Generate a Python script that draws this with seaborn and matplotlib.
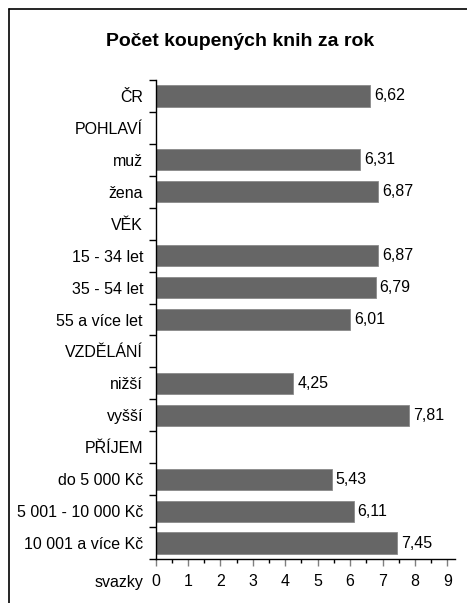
import matplotlib
matplotlib.use("Agg")
import matplotlib.pyplot as plt
from matplotlib.lines import Line2D
import seaborn as sns
import pandas as pd

# Row order, including group headers that carry no bar
categories = ["ČR", "POHLAVÍ", "muž", "žena", "VĚK", "15 - 34 let", "35 - 54 let",
              "55 a více let", "VZDĚLÁNÍ", "nižší", "vyšší", "PŘÍJEM",
              "do 5 000 Kč", "5 001 - 10 000 Kč", "10 001 a více Kč"]
bar_labels = ["ČR", "muž", "žena", "15 - 34 let", "35 - 54 let", "55 a více let",
              "nižší", "vyšší", "do 5 000 Kč", "5 001 - 10 000 Kč", "10 001 a více Kč"]
bar_values = [6.62, 6.31, 6.87, 6.87, 6.79, 6.01, 4.25, 7.81, 5.43, 6.11, 7.45]
x_ticks = list(range(0, 10))

sns.set_theme(style="white")
plt.rcParams["font.family"] = ["Liberation Sans", "DejaVu Sans"]
plt.rcParams["text.color"] = "black"
plt.rcParams["xtick.labelcolor"] = "black"
plt.rcParams["ytick.labelcolor"] = "black"

FS = 11.5

df = pd.DataFrame({"skupina": bar_labels, "svazky": bar_values})

W, H = 467, 603
fig = plt.figure(figsize=(W / 100, H / 100), dpi=100)
ax = fig.add_axes([155.5 / W, 1 - 559 / H, 299 / W, (559 - 80) / H])

sns.barplot(data=df, x="svazky", y="skupina", order=categories, orient="h",
            color="#666666", saturation=1, width=0.66, edgecolor="#8a8a8a",
            linewidth=0.6, ax=ax)

# value labels next to bar ends
for lab, val in zip(bar_labels, bar_values):
    ax.text(val + 0.12, categories.index(lab), f"{val:.2f}".replace(".", ","),
            va="center", ha="left", fontsize=FS, color="black")

ax.set_xlim(0, 9.22)
ax.set_ylim(len(categories) - 0.5, -0.5)
ax.set_xticks(x_ticks)
ax.set_xticks([t + 0.5 for t in x_ticks[:-1]], minor=True)
ax.set_xticklabels([str(t) for t in x_ticks], fontsize=FS, color="black")
ax.tick_params(axis="x", which="major", length=5, width=1, color="#808080",
               direction="out", pad=6, bottom=True)
ax.tick_params(axis="x", which="minor", length=3, width=1, color="black",
               direction="out", bottom=True)

ax.set_yticks(range(len(categories)))
ax.set_yticklabels(categories, fontsize=FS, color="black")
ax.set_yticks([i + 0.5 for i in range(-1, len(categories))], minor=True)
ax.tick_params(axis="y", which="major", length=0, pad=9)
ax.tick_params(axis="y", which="minor", length=5, width=1, color="black",
               direction="out", left=True)

ax.set_xlabel("")
ax.set_ylabel("")
for side in ["top", "right"]:
    ax.spines[side].set_visible(False)
for side in ["left", "bottom"]:
    ax.spines[side].set_visible(True)
    ax.spines[side].set_color("black")
    ax.spines[side].set_linewidth(1)

fig.text(143 / W, 1 - 582 / H, "svazky", ha="right", va="center", fontsize=FS,
         color="black")

fig.text(240 / W, 1 - 42 / H, "Počet koupených knih za rok", ha="center",
         va="center", fontsize=14, fontweight="bold", color="black")

# frame lines along the top and left edges
fig.add_artist(Line2D([8.5 / W, 8.5 / W], [0, 1 - 8.5 / H], color="black",
                      linewidth=1.2, transform=fig.transFigure))
fig.add_artist(Line2D([8.5 / W, 1], [1 - 8.5 / H, 1 - 8.5 / H], color="black",
                      linewidth=1.2, transform=fig.transFigure))

fig.savefig("out.png", dpi=100, facecolor="white")
